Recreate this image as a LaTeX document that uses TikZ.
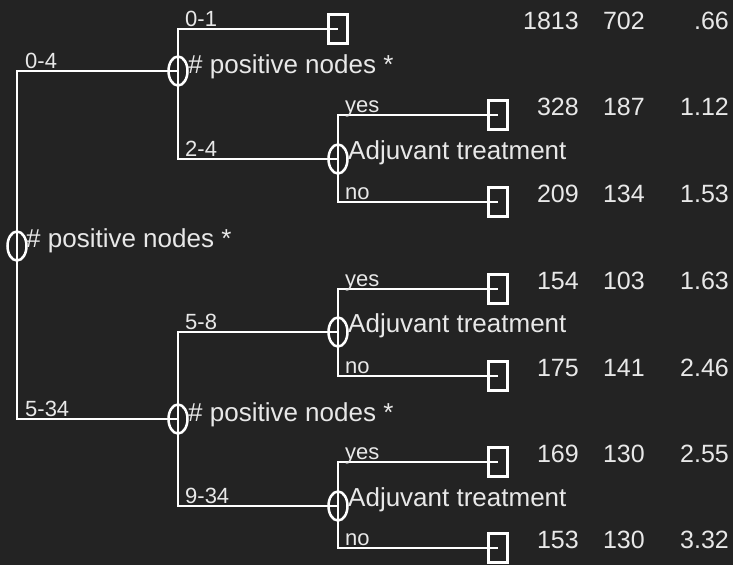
\documentclass[tikz,border=0pt]{standalone}
\usepackage{fontspec}
\setmainfont{Liberation Sans}
\usetikzlibrary{shapes.geometric}
\definecolor{bg}{HTML}{232323}
\definecolor{txt}{HTML}{E8E8E8}
\tikzset{
  chance/.style={draw=white, line width=2.5pt, ellipse, minimum width=19pt, minimum height=29pt, inner sep=0pt},
  term/.style={draw=white, line width=2.5pt, rectangle, minimum width=19pt, minimum height=29pt, inner sep=0pt},
  branch/.style={draw=white, line width=2.8pt},
  lbl/.style={text=txt, font=\fontsize{22}{24}\selectfont, inner sep=0pt, anchor=base west},
  main/.style={text=txt, font=\fontsize{26}{28}\selectfont, inner sep=0pt, anchor=base west},
  num/.style={text=txt, font=\fontsize{25}{28}\selectfont, inner sep=0pt, anchor=base east}
}
\begin{document}
\begin{tikzpicture}[x=1pt,y=-1pt]
\fill[bg] (0,0) rectangle (733,565);
\useasboundingbox (0,0) rectangle (733,565);
% chance nodes
\node[chance] (r) at (17,246) {};
\node[chance] (n1) at (178,71) {};
\node[chance] (n2) at (178,419) {};
\node[chance] (a1) at (338,159) {};
\node[chance] (a2) at (338,332) {};
\node[chance] (a3) at (338,506) {};
% terminals
\node[term] (t1) at (338,29) {};
\node[term] (t2) at (498,115) {};
\node[term] (t3) at (498,202) {};
\node[term] (t4) at (498,289) {};
\node[term] (t5) at (498,376) {};
\node[term] (t6) at (498,462) {};
\node[term] (t7) at (498,548) {};
% connectors
\draw[branch] (r.center) |- (n1.center);
\draw[branch] (r.center) |- (n2.center);
\draw[branch] (n1.center) |- (t1.center);
\draw[branch] (n1.center) |- (a1.center);
\draw[branch] (n2.center) |- (a2.center);
\draw[branch] (n2.center) |- (a3.center);
\draw[branch] (a1.center) |- (t2.center);
\draw[branch] (a1.center) |- (t3.center);
\draw[branch] (a2.center) |- (t4.center);
\draw[branch] (a2.center) |- (t5.center);
\draw[branch] (a3.center) |- (t6.center);
\draw[branch] (a3.center) |- (t7.center);
% node texts
\node[main] (rt) at (26,247) {\# positive nodes *};
\node[main] (n1t) at (188,73) {\# positive nodes *};
\node[main] (n2t) at (188,421) {\# positive nodes *};
\node[main] (a1t) at (348,159) {Adjuvant treatment};
\node[main] (a2t) at (348,332) {Adjuvant treatment};
\node[main] (a3t) at (348,506) {Adjuvant treatment};
% branch labels
\node[lbl] (l04) at (25,68) {0-4};
\node[lbl] (l534) at (25,416) {5-34};
\node[lbl] (l01) at (185,26) {0-1};
\node[lbl] (l24) at (185,156) {2-4};
\node[lbl] (l58) at (185,329) {5-8};
\node[lbl] (l934) at (185,503) {9-34};
\node[lbl] (y1) at (345,112) {yes};
\node[lbl] (o1) at (345,199) {no};
\node[lbl] (y2) at (345,286) {yes};
\node[lbl] (o2) at (345,373) {no};
\node[lbl] (y3) at (345,459) {yes};
\node[lbl] (o3) at (345,545) {no};
% numbers
\node[num] (c11) at (579,29) {1813};
\node[num] (c12) at (645,29) {702};
\node[num] (c13) at (729,29) {.66};
\node[num] (c21) at (579,115) {328};
\node[num] (c22) at (645,115) {187};
\node[num] (c23) at (729,115) {1.12};
\node[num] (c31) at (579,202) {209};
\node[num] (c32) at (645,202) {134};
\node[num] (c33) at (729,202) {1.53};
\node[num] (c41) at (579,289) {154};
\node[num] (c42) at (645,289) {103};
\node[num] (c43) at (729,289) {1.63};
\node[num] (c51) at (579,376) {175};
\node[num] (c52) at (645,376) {141};
\node[num] (c53) at (729,376) {2.46};
\node[num] (c61) at (579,462) {169};
\node[num] (c62) at (645,462) {130};
\node[num] (c63) at (729,462) {2.55};
\node[num] (c71) at (579,548) {153};
\node[num] (c72) at (645,548) {130};
\node[num] (c73) at (729,548) {3.32};
\end{tikzpicture}
\end{document}
